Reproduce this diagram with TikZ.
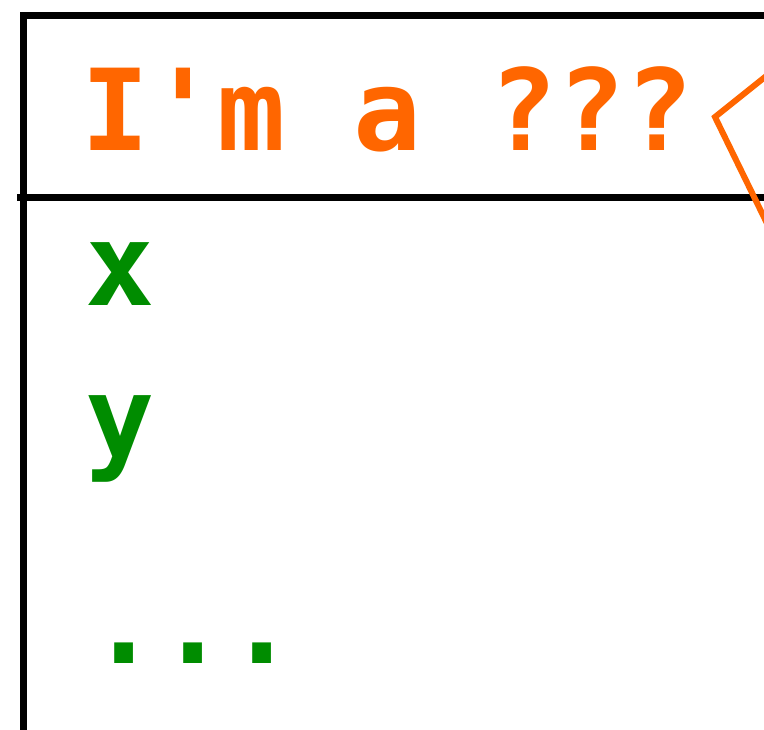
\documentclass[tikz,border=0pt]{standalone}
\usepackage{fontspec}
\setmonofont{DejaVu Sans Mono}
\usepackage{tikz}
\definecolor{notecol}{RGB}{255,102,0}
\definecolor{fieldcol}{RGB}{0,140,0}
\tikzset{
  big/.style={font=\ttfamily\bfseries\fontsize{115}{130}\selectfont,inner sep=0pt,anchor=base west},
}
\begin{document}
\begin{tikzpicture}[x=1pt,y=-1pt]
\useasboundingbox (0,0) rectangle (764,730);
\clip (0,0) rectangle (764,730);
\draw[line width=7pt] (780,15.5) -| (23.5,740);
\draw[line width=7pt] (17,197.8) -- (780,197.8);
\draw[notecol,line width=6pt,line join=miter] (780,65) -- (715,117) -- (780,250);
\node[big,text=notecol,font=\ttfamily\bfseries\fontsize{113}{130}\selectfont] (title) at (81,151) {I'm a ???};
\node[big,text=fieldcol] (fx) at (85,306) {x};
\node[big,text=fieldcol] (fy) at (85,458) {y};
\node[big,text=fieldcol] (fdots) at (89,663) {...};
\end{tikzpicture}
\end{document}
